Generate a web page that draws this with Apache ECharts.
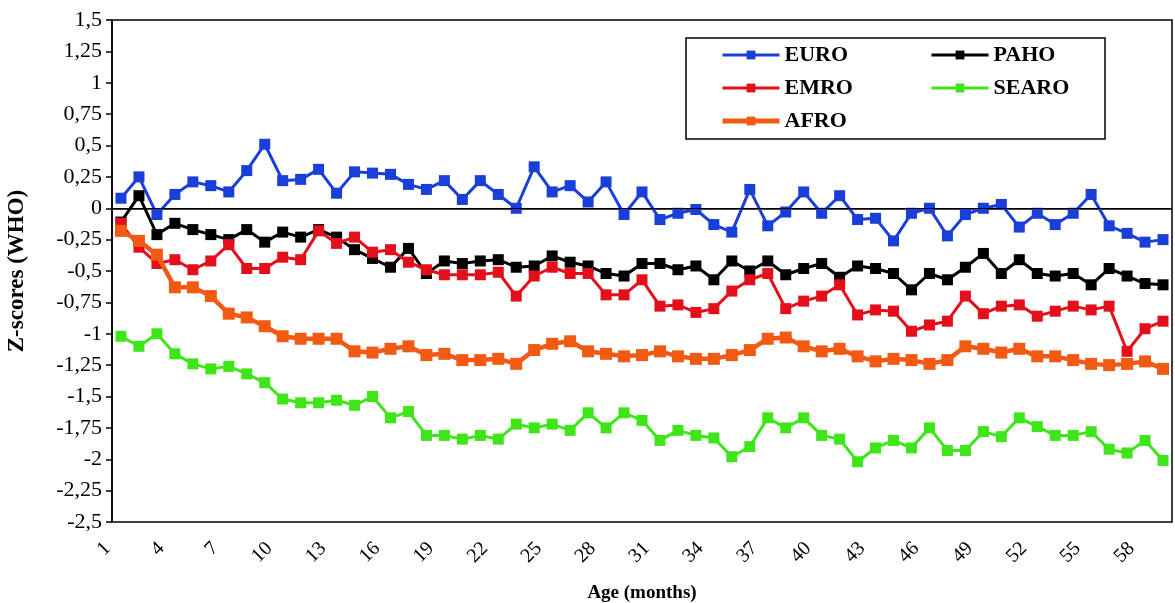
<!DOCTYPE html>
<html>
<head>
<meta charset="utf-8">
<script src="https://cdn.jsdelivr.net/npm/echarts@6/dist/echarts.min.js"></script>
<style>
  html, body { margin: 0; padding: 0; background: #fff; }
  #chart { width: 1175px; height: 603px; }
</style>
</head>
<body>
<div id="chart"></div>
<script>
// Age in months (x categories)
const ages = [1, 2, 3, 4, 5, 6, 7, 8, 9, 10, 11, 12, 13, 14, 15, 16, 17, 18, 19, 20,
  21, 22, 23, 24, 25, 26, 27, 28, 29, 30, 31, 32, 33, 34, 35, 36, 37, 38, 39, 40,
  41, 42, 43, 44, 45, 46, 47, 48, 49, 50, 51, 52, 53, 54, 55, 56, 57, 58, 59];

// Mean Z-scores (WHO) by region
const euro = [0.08, 0.25, -0.05, 0.11, 0.21, 0.18, 0.13, 0.30, 0.51, 0.22,
  0.23, 0.31, 0.12, 0.29, 0.28, 0.27, 0.19, 0.15, 0.22, 0.07,
  0.22, 0.11, 0.00, 0.33, 0.13, 0.18, 0.05, 0.21, -0.05, 0.13,
  -0.09, -0.04, -0.01, -0.13, -0.19, 0.15, -0.14, -0.03, 0.13, -0.04,
  0.10, -0.09, -0.08, -0.26, -0.04, 0.00, -0.22, -0.05, 0.00, 0.03,
  -0.15, -0.04, -0.13, -0.04, 0.11, -0.14, -0.20, -0.27, -0.25];

const paho = [-0.11, 0.10, -0.21, -0.12, -0.17, -0.21, -0.25, -0.17, -0.27, -0.19,
  -0.23, -0.17, -0.23, -0.33, -0.40, -0.47, -0.32, -0.52, -0.42, -0.44,
  -0.42, -0.41, -0.47, -0.46, -0.38, -0.43, -0.46, -0.52, -0.54, -0.44,
  -0.44, -0.49, -0.46, -0.57, -0.42, -0.50, -0.42, -0.53, -0.48, -0.44,
  -0.55, -0.46, -0.48, -0.52, -0.65, -0.52, -0.57, -0.47, -0.36, -0.52,
  -0.41, -0.52, -0.54, -0.52, -0.61, -0.48, -0.54, -0.60, -0.61];

const emro = [-0.12, -0.31, -0.44, -0.41, -0.49, -0.42, -0.29, -0.48, -0.48, -0.39,
  -0.41, -0.18, -0.28, -0.23, -0.35, -0.33, -0.43, -0.49, -0.53, -0.53,
  -0.53, -0.51, -0.70, -0.54, -0.47, -0.52, -0.52, -0.69, -0.69, -0.57,
  -0.78, -0.77, -0.83, -0.80, -0.66, -0.57, -0.52, -0.80, -0.74, -0.70,
  -0.61, -0.85, -0.81, -0.82, -0.98, -0.93, -0.90, -0.70, -0.84, -0.78,
  -0.77, -0.86, -0.82, -0.78, -0.81, -0.78, -1.14, -0.96, -0.90];

const searo = [-1.02, -1.10, -1.00, -1.16, -1.24, -1.28, -1.26, -1.32, -1.39, -1.52,
  -1.55, -1.55, -1.53, -1.57, -1.50, -1.67, -1.62, -1.81, -1.81, -1.84,
  -1.81, -1.84, -1.72, -1.75, -1.72, -1.77, -1.63, -1.75, -1.63, -1.69,
  -1.85, -1.77, -1.81, -1.83, -1.98, -1.90, -1.67, -1.75, -1.67, -1.81,
  -1.84, -2.02, -1.91, -1.85, -1.91, -1.75, -1.93, -1.93, -1.78, -1.82,
  -1.67, -1.74, -1.81, -1.81, -1.78, -1.92, -1.95, -1.85, -2.01];

const afro = [-0.18, -0.26, -0.37, -0.63, -0.63, -0.70, -0.84, -0.87, -0.94, -1.02,
  -1.04, -1.04, -1.04, -1.14, -1.15, -1.12, -1.10, -1.17, -1.16, -1.21,
  -1.21, -1.20, -1.24, -1.13, -1.08, -1.06, -1.14, -1.16, -1.18, -1.17,
  -1.14, -1.18, -1.20, -1.20, -1.17, -1.13, -1.04, -1.03, -1.10, -1.14,
  -1.12, -1.18, -1.22, -1.20, -1.21, -1.24, -1.21, -1.10, -1.12, -1.15,
  -1.12, -1.18, -1.18, -1.21, -1.24, -1.25, -1.24, -1.22, -1.28];

const SERIF = '"Liberation Serif", "DejaVu Serif", serif';

function lineSeries(name, data, color, width, size, extra) {
  return Object.assign({
    name: name,
    type: 'line',
    data: data,
    symbol: 'rect',
    symbolSize: size,
    showSymbol: true,
    showAllSymbol: true,
    animation: false,
    itemStyle: { color: color },
    lineStyle: { color: color, width: width }
  }, extra || {});
}

const legendText = { fontFamily: SERIF, fontWeight: 'bold', fontSize: 22, color: '#000', lineHeight: 22 };

function legendItem(name, width) {
  return { name: name, lineStyle: { width: width } };
}

const chart = echarts.init(document.getElementById('chart'), null, { renderer: 'canvas' });

chart.setOption({
  backgroundColor: '#ffffff',
  animation: false,
  grid: {
    left: 112, top: 20, width: 1060, height: 502,
    outerBoundsMode: 'none',
    containLabel: false,
    show: true, borderColor: '#000', borderWidth: 1.5, backgroundColor: 'transparent'
  },
  legend: [
    {
      orient: 'vertical', left: 720, top: 44, padding: 0,
      itemWidth: 57, itemHeight: 11, itemGap: 11,
      data: [legendItem('EURO', 3), legendItem('EMRO', 3), legendItem('AFRO', 5)],
      textStyle: legendText,
      selectedMode: false
    },
    {
      orient: 'vertical', left: 930, top: 44, padding: 0,
      itemWidth: 57, itemHeight: 11, itemGap: 11,
      data: [legendItem('PAHO', 3), legendItem('SEARO', 3)],
      textStyle: legendText,
      selectedMode: false
    }
  ],
  graphic: [{
    type: 'rect',
    shape: { x: 686, y: 38, width: 419, height: 101 },
    style: { fill: 'none', stroke: '#000', lineWidth: 1.5 },
    z: 10
  }],
  xAxis: {
    type: 'category',
    data: ages.map(String),
    boundaryGap: true,
    name: 'Age (months)',
    nameLocation: 'middle',
    nameGap: 62,
    nameTextStyle: { fontFamily: SERIF, fontWeight: 'bold', fontSize: 19, color: '#000' },
    axisLine: { lineStyle: { color: '#000', width: 1.5 } },
    axisTick: { show: false },
    axisLabel: {
      interval: 2, rotate: 45, margin: 10,
      padding: [0, 19, 0, 0],
      fontFamily: SERIF, fontSize: 20, color: '#000'
    },
    splitLine: { show: false }
  },
  yAxis: {
    type: 'value',
    min: -2.5, max: 1.5, interval: 0.25,
    name: 'Z-scores (WHO)',
    nameLocation: 'middle',
    nameGap: 83,
    nameRotate: 90,
    nameTextStyle: { fontFamily: SERIF, fontWeight: 'bold', fontSize: 23, color: '#000' },
    axisLine: { show: true, lineStyle: { color: '#000', width: 1.5 } },
    axisTick: { show: true, length: 6, lineStyle: { color: '#000', width: 1.5 } },
    axisLabel: {
      margin: 10,
      fontFamily: SERIF, fontSize: 22, color: '#000',
      formatter: function (v) { return String(Math.round(v * 100) / 100).replace('.', ','); }
    },
    splitLine: { show: false }
  },
  series: [
    lineSeries('EURO', euro, '#1a3fd8', 3, 11, {
      z: 3,
      markLine: {
        silent: true, symbol: 'none', animation: false,
        label: { show: false },
        lineStyle: { color: '#000', width: 1.2, type: 'solid' },
        data: [{ yAxis: 0 }]
      }
    }),
    lineSeries('PAHO', paho, '#000000', 3, 11, { z: 4 }),
    lineSeries('EMRO', emro, '#e3101b', 3, 11, { z: 5 }),
    lineSeries('SEARO', searo, '#3ee619', 3, 11, { z: 6 }),
    lineSeries('AFRO', afro, '#f25a14', 4.5, 12, { z: 7 })
  ]
});
</script>
</body>
</html>
